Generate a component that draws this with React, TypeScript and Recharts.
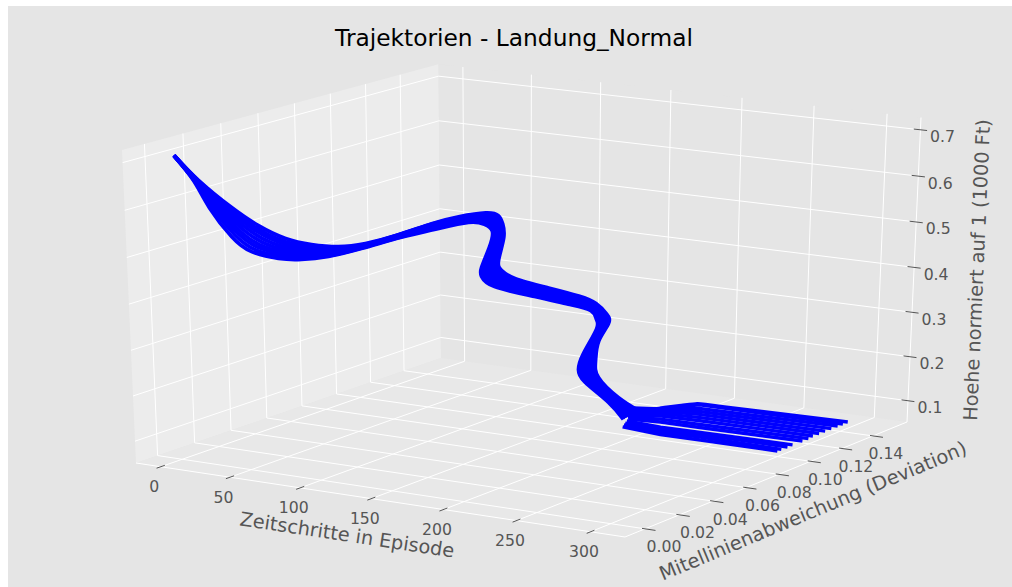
import { ScatterChart, Scatter, XAxis, YAxis } from 'recharts';

const W = 1012;
const H = 587;

const tTicks = [0, 50, 100, 150, 200, 250, 300];
const devTicks = [0, 0.02, 0.04, 0.06, 0.08, 0.1, 0.12, 0.14];
const hTicks = [0.1, 0.2, 0.3, 0.4, 0.5, 0.6, 0.7];

// approach: shared time steps, then deviation + height for each trajectory
const flightT = [0, 12, 22, 32, 41, 50, 60, 70, 80, 90, 100, 108, 114, 118, 122, 126, 130, 134, 140, 146, 150, 153, 156, 159, 162, 165, 170, 176];

const dev0 = [0.0019, 0.0053, 0.0146, 0.0212, 0.0287, 0.0358, 0.0428, 0.0499, 0.0605, 0.0713, 0.0787, 0.0877, 0.0903, 0.0894, 0.0867, 0.0804, 0.0788, 0.0837, 0.0982, 0.1112, 0.1183, 0.1222, 0.1209, 0.1125, 0.1081, 0.1074, 0.1156, 0.1229];
const height0 = [0.707, 0.655, 0.591, 0.548, 0.515, 0.497, 0.488, 0.49, 0.5, 0.515, 0.525, 0.526, 0.519, 0.504, 0.478, 0.438, 0.42, 0.397, 0.361, 0.329, 0.305, 0.278, 0.259, 0.232, 0.195, 0.159, 0.104, 0.067];
const dev1 = [0.0019, 0.0049, 0.0132, 0.0194, 0.0264, 0.0335, 0.0403, 0.0474, 0.0579, 0.0691, 0.0769, 0.0865, 0.0893, 0.0886, 0.0856, 0.0791, 0.0774, 0.0821, 0.0971, 0.1104, 0.1179, 0.1214, 0.12, 0.1113, 0.1068, 0.1063, 0.1144, 0.1217];
const height1 = [0.707, 0.656, 0.593, 0.547, 0.514, 0.496, 0.488, 0.489, 0.5, 0.514, 0.524, 0.525, 0.518, 0.503, 0.477, 0.437, 0.42, 0.397, 0.36, 0.328, 0.304, 0.278, 0.258, 0.23, 0.194, 0.159, 0.104, 0.066];
const dev2 = [0.0019, 0.0046, 0.0118, 0.0176, 0.0241, 0.0313, 0.0377, 0.0448, 0.0554, 0.067, 0.0752, 0.0852, 0.0883, 0.0879, 0.0846, 0.0779, 0.0759, 0.0806, 0.0961, 0.1096, 0.1175, 0.1207, 0.1191, 0.1101, 0.1055, 0.1053, 0.114, 0.1206];
const height2 = [0.707, 0.656, 0.594, 0.547, 0.514, 0.495, 0.487, 0.489, 0.499, 0.513, 0.523, 0.524, 0.517, 0.502, 0.476, 0.437, 0.42, 0.397, 0.359, 0.327, 0.302, 0.277, 0.258, 0.228, 0.193, 0.16, 0.104, 0.065];
const dev3 = [0.0019, 0.0043, 0.0103, 0.0158, 0.0218, 0.029, 0.0352, 0.0423, 0.0528, 0.0649, 0.0735, 0.084, 0.0872, 0.0871, 0.0835, 0.0767, 0.0745, 0.0791, 0.095, 0.1088, 0.1171, 0.1199, 0.1182, 0.109, 0.1042, 0.1042, 0.1132, 0.1194];
const height3 = [0.707, 0.656, 0.596, 0.546, 0.513, 0.494, 0.487, 0.489, 0.498, 0.512, 0.521, 0.523, 0.516, 0.501, 0.474, 0.437, 0.42, 0.397, 0.358, 0.326, 0.301, 0.277, 0.258, 0.226, 0.193, 0.16, 0.103, 0.064];
const dev4 = [0.0019, 0.004, 0.0089, 0.014, 0.0195, 0.0268, 0.0327, 0.0397, 0.0502, 0.0628, 0.0718, 0.0827, 0.0862, 0.0864, 0.0825, 0.0755, 0.073, 0.0776, 0.094, 0.108, 0.1168, 0.1191, 0.1172, 0.1078, 0.1029, 0.1032, 0.1125, 0.1182];
const height4 = [0.706, 0.656, 0.597, 0.545, 0.512, 0.493, 0.486, 0.488, 0.498, 0.51, 0.52, 0.522, 0.515, 0.5, 0.473, 0.436, 0.42, 0.396, 0.357, 0.324, 0.299, 0.276, 0.257, 0.224, 0.192, 0.16, 0.103, 0.064];
const dev5 = [0.0019, 0.0037, 0.0075, 0.0122, 0.0172, 0.0245, 0.0301, 0.0372, 0.0476, 0.0606, 0.07, 0.0815, 0.0852, 0.0856, 0.0815, 0.0742, 0.0716, 0.076, 0.0929, 0.1073, 0.1164, 0.1184, 0.1163, 0.1066, 0.1016, 0.1021, 0.1117, 0.117];
const height5 = [0.706, 0.656, 0.599, 0.544, 0.511, 0.492, 0.486, 0.488, 0.497, 0.509, 0.518, 0.521, 0.514, 0.499, 0.472, 0.436, 0.42, 0.396, 0.356, 0.323, 0.298, 0.275, 0.257, 0.221, 0.191, 0.16, 0.103, 0.063];
const dev6 = [0.0019, 0.0034, 0.0061, 0.0104, 0.0149, 0.0223, 0.0276, 0.0346, 0.045, 0.0585, 0.0683, 0.0803, 0.0841, 0.0849, 0.0804, 0.073, 0.0702, 0.0745, 0.0919, 0.1065, 0.116, 0.1176, 0.1154, 0.1055, 0.1003, 0.1011, 0.1109, 0.1159];
const height6 = [0.706, 0.656, 0.6, 0.544, 0.511, 0.491, 0.486, 0.487, 0.497, 0.508, 0.517, 0.52, 0.513, 0.497, 0.471, 0.436, 0.42, 0.396, 0.355, 0.322, 0.296, 0.275, 0.256, 0.219, 0.191, 0.161, 0.103, 0.062];
const dev7 = [0.0019, 0.0031, 0.0046, 0.0086, 0.0126, 0.0201, 0.0251, 0.0321, 0.0425, 0.0564, 0.0666, 0.079, 0.0831, 0.0841, 0.0794, 0.0718, 0.0687, 0.073, 0.0908, 0.1057, 0.1156, 0.1168, 0.1145, 0.1043, 0.0991, 0.1, 0.1102, 0.1147];
const height7 = [0.706, 0.657, 0.602, 0.543, 0.51, 0.49, 0.485, 0.487, 0.496, 0.507, 0.516, 0.519, 0.511, 0.496, 0.469, 0.435, 0.421, 0.396, 0.354, 0.321, 0.294, 0.274, 0.256, 0.217, 0.19, 0.161, 0.102, 0.061];
const dev8 = [0.0019, 0.0028, 0.0032, 0.0068, 0.0104, 0.0178, 0.0226, 0.0296, 0.0399, 0.0543, 0.0649, 0.0778, 0.0821, 0.0834, 0.0784, 0.0706, 0.0673, 0.0715, 0.0898, 0.1049, 0.1152, 0.116, 0.1136, 0.1031, 0.0978, 0.099, 0.1094, 0.1135];
const height8 = [0.706, 0.657, 0.603, 0.542, 0.509, 0.489, 0.485, 0.487, 0.495, 0.506, 0.514, 0.517, 0.51, 0.495, 0.468, 0.435, 0.421, 0.395, 0.353, 0.319, 0.293, 0.274, 0.256, 0.215, 0.189, 0.161, 0.102, 0.06];

const flightDev = [dev0, dev1, dev2, dev3, dev4, dev5, dev6, dev7, dev8];
const flightHeight = [height0, height1, height2, height3, height4, height5, height6, height7, height8];

// rollout on the runway: height stays at this value
const rolloutHeight = 0.055;
const rolloutT = [
  [183, 213, 241, 295],
  [181, 209, 237, 295],
  [179, 206, 233, 295],
  [177, 203, 231, 295],
  [175, 196, 224, 295],
  [172, 192, 220, 295],
  [170, 187, 215, 294],
  [168, 184, 211, 294],
  [165, 181, 206, 294],
  [163, 179, 202, 294],
  [162, 178, 198, 294],
  [165, 177, 193, 294],
];
const rolloutDev = [
  [0.1071, 0.1044, 0.1046, 0.1045],
  [0.1096, 0.1073, 0.1081, 0.107],
  [0.1121, 0.1103, 0.111, 0.1109],
  [0.1148, 0.1132, 0.1134, 0.1141],
  [0.1174, 0.1192, 0.1192, 0.1204],
  [0.1198, 0.1227, 0.1229, 0.1242],
  [0.1223, 0.1263, 0.1273, 0.128],
  [0.1249, 0.1293, 0.1312, 0.132],
  [0.1275, 0.1318, 0.1349, 0.1359],
  [0.1301, 0.1336, 0.1385, 0.1399],
  [0.1314, 0.1348, 0.142, 0.144],
  [0.1307, 0.1354, 0.1465, 0.1474],
];
// outermost run, it swings wide after touchdown
const outerT = [171, 178, 184, 190, 209, 294];
const outerDev = [0.1284, 0.1374, 0.1428, 0.1475, 0.1481, 0.1506];

const T0 = -18, T1 = 323, D0 = -0.0115, D1 = 0.1625, H0 = 0.0513, H1 = 0.7263;

// camera fit: floor corners and two top corners on the picture
const A = [136, 463], B = [625, 537], C = [907, 422], Dd = [441, 358], Atop = [122, 150], Ctop = [921, 117];

const dx1 = B[0] - C[0], dx2 = Dd[0] - C[0], dx3 = A[0] - B[0] + C[0] - Dd[0];
const dy1 = B[1] - C[1], dy2 = Dd[1] - C[1], dy3 = A[1] - B[1] + C[1] - Dd[1];
const den = dx1 * dy2 - dx2 * dy1;
const g = (dx3 * dy2 - dx2 * dy3) / den;
const h = (dx1 * dy3 - dx3 * dy1) / den;
const a = B[0] - A[0] + g * B[0], b = Dd[0] - A[0] + h * Dd[0], c = A[0];
const d = B[1] - A[1] + g * B[1], e = Dd[1] - A[1] + h * Dd[1], f = A[1];
const hxE = a + b + c, hwE = g + h + 1;
const cz = (hxE - c + Atop[0] - Ctop[0] * hwE) / (Ctop[0] - Atop[0]);
const cx = Atop[0] * (1 + cz) - c;
const cy = Atop[1] * (1 + cz) - f;

const project = (t: number, dev: number, z: number) => {
  const u = (t - T0) / (T1 - T0);
  const v = (dev - D0) / (D1 - D0);
  const w = (z - H0) / (H1 - H0);
  const q = g * u + h * v + cz * w + 1;
  return { x: (a * u + b * v + cx * w + c) / q, y: (d * u + e * v + cy * w + f) / q };
};

const seg = (key: string, pts: { x: number; y: number }[], stroke: string, width = 1, fill = 'none', joint = 'linear') => (
  <Scatter
    key={key}
    data={pts}
    isAnimationActive={false}
    lineJointType={joint as any}
    line={{ stroke, strokeWidth: width, fill }}
    shape={() => <g />}
  />
);

const TextMark = (p: any) => (
  <text
    x={p.cx}
    y={p.cy}
    textAnchor="middle"
    dominantBaseline="central"
    fontFamily="DejaVu Sans"
    fontSize={p.payload.size}
    fill={p.payload.color}
    transform={p.payload.rot ? `rotate(${p.payload.rot} ${p.cx} ${p.cy})` : undefined}
  >
    {p.payload.label}
  </text>
);

const GRID = '#ffffff';
const INK = '#555555';
const BLUE = '#0000ff';
const TICK_SIZE = 15.7;

export default function App() {
  const panes = [
    seg('left', [project(T0, D0, H0), project(T0, D1, H0), project(T0, D1, H1), project(T0, D0, H1), project(T0, D0, H0)], 'none', 0, '#ececec'),
    seg('back', [project(T0, D1, H0), project(T1, D1, H0), project(T1, D1, H1), project(T0, D1, H1), project(T0, D1, H0)], 'none', 0, '#e5e5e5'),
    seg('floor', [project(T0, D0, H0), project(T1, D0, H0), project(T1, D1, H0), project(T0, D1, H0), project(T0, D0, H0)], 'none', 0, '#e8e8e8'),
  ];
  const grid = [
    ...tTicks.map((t) => seg(`gt${t}`, [project(t, D0, H0), project(t, D1, H0), project(t, D1, H1)], GRID)),
    ...devTicks.map((v) => seg(`gd${v}`, [project(T1, v, H0), project(T0, v, H0), project(T0, v, H1)], GRID)),
    ...hTicks.map((z) => seg(`gh${z}`, [project(T1, D1, z), project(T0, D1, z), project(T0, D0, z)], GRID)),
    seg('ax', [project(T0, D0, H0), project(T1, D0, H0)], GRID),
    seg('ay', [project(T1, D0, H0), project(T1, D1, H0)], GRID),
    seg('az', [project(T1, D1, H0), project(T1, D1, H1)], GRID),
  ];
  const ticks = [
    ...tTicks.map((t) => seg(`kt${t}`, [project(t, D0 - 0.0022, H0), project(t, D0 + 0.0022, H0)], INK)),
    ...devTicks.map((v) => seg(`kd${v}`, [project(T1 - 2, v, H0), project(T1 + 7, v, H0)], INK)),
    ...hTicks.map((z) => seg(`kh${z}`, [project(T1 - 4.5, D1, z), project(T1 + 4.5, D1, z)], INK)),
  ];
  const labels = [
    ...tTicks.map((t) => {
      const p = project(t, D0, H0);
      return { x: p.x - 6.5, y: p.y + 20, label: String(t), size: TICK_SIZE, color: INK };
    }),
    ...devTicks.map((v) => {
      const p = project(T1, v, H0);
      return { x: p.x + 19 - (v / 0.14) * 6, y: p.y + 18, label: v.toFixed(2), size: TICK_SIZE, color: INK };
    }),
    ...hTicks.map((z) => {
      const p = project(T1, D1, z);
      return { x: p.x + 22, y: p.y + 7, label: z.toFixed(1), size: TICK_SIZE, color: INK };
    }),
    { x: 514, y: 37.5, label: 'Trajektorien - Landung_Normal', size: 23.3, color: '#000000' },
    { x: 347, y: 535, label: 'Zeitschritte in Episode', size: 19.3, color: INK, rot: 8.6 },
    { x: 813, y: 511, label: 'Mitellinienabweichung (Deviation)', size: 19.4, color: INK, rot: -22.7 },
    { x: 977, y: 270, label: 'Hoehe normiert auf 1 (1000 Ft)', size: 19.3, color: INK, rot: -87.5 },
  ];
  const flight = flightDev.map((devs, k) => flightT.map((t, i) => project(t, devs[i], flightHeight[k][i])));
  const rollout = rolloutT.map((ts, k) => ts.map((t, i) => project(t, rolloutDev[k][i], rolloutHeight)));
  const outer = outerT.map((t, i) => project(t, outerDev[i], rolloutHeight));
  return (
    <div style={{ position: 'absolute', left: 0, top: 0, width: W, height: H, overflow: 'hidden' }}>
      <div style={{ position: 'absolute', left: 8, top: 6, width: W - 8, height: H - 6, background: '#e5e5e5' }} />
      <div style={{ position: 'absolute', left: 0, top: 0 }}>
        <ScatterChart width={W} height={H} margin={{ top: 0, right: 0, bottom: 0, left: 0 }}>
          <XAxis type="number" dataKey="x" domain={[0, W]} hide allowDataOverflow />
          <YAxis type="number" dataKey="y" domain={[0, H]} reversed hide allowDataOverflow />
          {panes}
          {grid}
          {ticks}
          {flight.map((l, i) => seg(`f${i}`, l, BLUE, 3.7, 'none', 'natural'))}
          {rollout.map((l, i) => seg(`r${i}`, l, BLUE, 3.4))}
          {seg('outer', outer, BLUE, 3.4, 'none', 'natural')}
          <Scatter data={labels} isAnimationActive={false} shape={TextMark} />
        </ScatterChart>
      </div>
    </div>
  );
}
